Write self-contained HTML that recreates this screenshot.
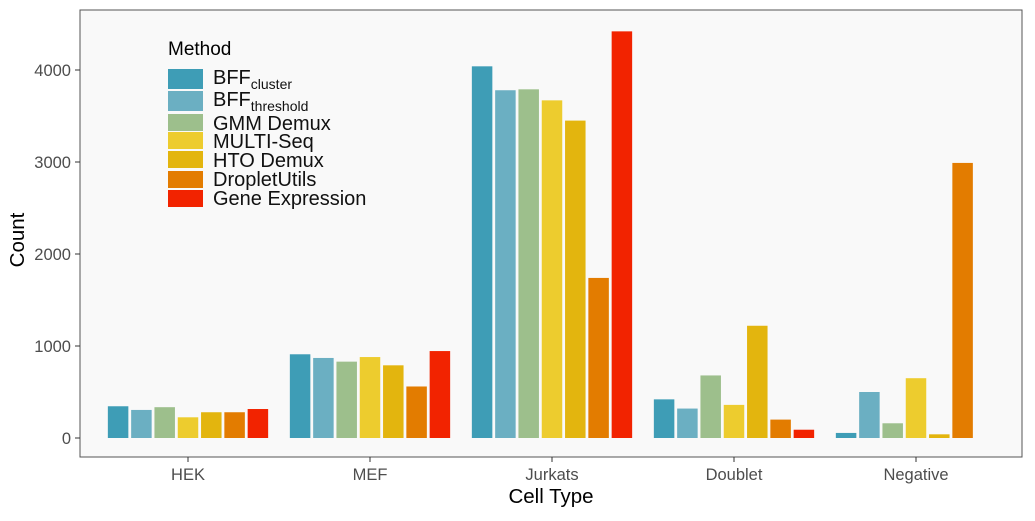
<!DOCTYPE html>
<html><head><meta charset="utf-8"><style>
body{margin:0;background:#fff;}
svg text{font-family:"Liberation Sans",Arial,sans-serif;}
</style></head><body>
<svg id="chart" width="1035" height="516" xmlns="http://www.w3.org/2000/svg">
<rect x="80" y="10" width="942" height="447" fill="#f9f9f9" stroke="#555" stroke-width="1"/>
<g id="bars"></g>
<g id="axes"></g>
<text x="24" y="240" font-size="20.5" text-anchor="middle" transform="rotate(-90 24 240)" fill="#000">Count</text>
<text x="551" y="503" font-size="20.5" text-anchor="middle" fill="#000">Cell Type</text>
<g id="legend">
<text x="168" y="55" font-size="19" fill="#000">Method</text>
</g>
</svg>
<script>
const categories=["HEK","MEF","Jurkats","Doublet","Negative"];
const methods=["BFF_cluster","BFF_threshold","GMM Demux","MULTI-Seq","HTO Demux","DropletUtils","Gene Expression"];
const colors=["#3e9db6","#6bafc2","#9dbf8c","#edcc2e","#e3b50e","#e37c00","#f22300"];
const bffCluster=[345,910,4040,420,55];
const bffThreshold=[305,870,3780,320,500];
const gmmDemux=[335,830,3790,680,160];
const multiSeq=[225,880,3670,360,650];
const htoDemux=[280,790,3450,1220,40];
const dropletUtils=[280,560,1740,200,2990];
const geneExpression=[315,945,4420,90,0];
const series=[bffCluster,bffThreshold,gmmDemux,multiSeq,htoDemux,dropletUtils,geneExpression];
const yTicks=[0,1000,2000,3000,4000];
const NS="http://www.w3.org/2000/svg";
const y=v=>438-v*0.092;
const xc=i=>188+i*182;
const step=23.3,bw=20.5;
const bars=document.getElementById('bars'),axes=document.getElementById('axes'),legend=document.getElementById('legend');
function mk(tag,attrs,parent){const e=document.createElementNS(NS,tag);for(const k in attrs)e.setAttribute(k,attrs[k]);parent.appendChild(e);return e;}
series.forEach((s,j)=>{s.forEach((v,i)=>{
 const x=xc(i)+(j-3)*step-bw/2;
 const r=mk('rect',{x:x,y:y(v),width:bw,height:Math.max(0,y(0)-y(v)),fill:colors[j]},bars);
 
 
});});
yTicks.forEach(t=>{
 const l=mk('line',{x1:75,x2:80,y1:y(t),y2:y(t),stroke:'#333'},axes);
 
 
 const tx=mk('text',{x:71,y:y(t)+6,'font-size':16.5,'text-anchor':'end',fill:'#4d4d4d'},axes);
 tx.textContent=t;
 
 
});
categories.forEach((c,i)=>{
 const l=mk('line',{x1:xc(i),x2:xc(i),y1:457,y2:462,stroke:'#333'},axes);
 
 
 const tx=mk('text',{x:xc(i),y:480,'font-size':16.5,'text-anchor':'middle',fill:'#4d4d4d'},axes);
 tx.textContent=c;
 
 
});
const labels=[["BFF","cluster"],["BFF","threshold"],["GMM Demux"],["MULTI-Seq"],["HTO Demux"],["DropletUtils"],["Gene Expression"]];
const keyTops=[69,91,114,132,151,171,190];
const keyH=[20,20,17,17,17,17,17];
const baselines=[84,106,130,148,167,186,205];
labels.forEach((lb,j)=>{
 const r=mk('rect',{x:168,y:keyTops[j],width:35,height:keyH[j],fill:colors[j]},legend);
 
 
 const tx=mk('text',{x:213,y:baselines[j],'font-size':20,fill:'#111'},legend);
 tx.textContent=lb[0];
 if(lb[1]){const ts=mk('tspan',{'font-size':14,dy:5},tx);ts.textContent=lb[1];}
 
 
});
</script>
</body></html>
